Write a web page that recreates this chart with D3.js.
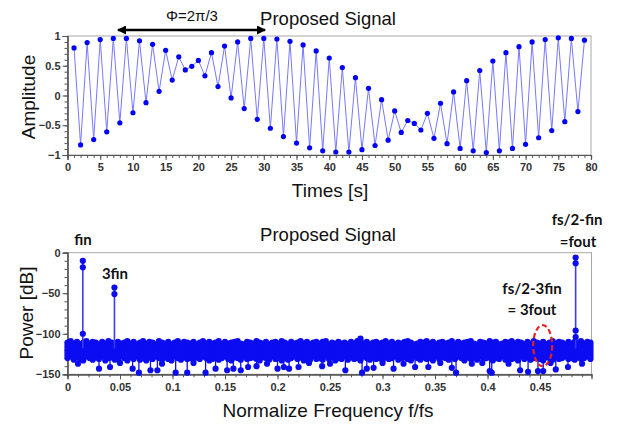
<!DOCTYPE html>
<html>
<head>
<meta charset="utf-8">
<script src="https://cdn.jsdelivr.net/npm/d3@7/dist/d3.min.js"></script>
<style>
  html, body { margin: 0; padding: 0; background: #fff; }
  svg { display: block; }
  .tick text { font-family: "Liberation Sans", Arial, sans-serif; font-size: 11px; font-weight: bold; fill: #333; }
</style>
</head>
<body>
<svg id="chart" width="630" height="426"></svg>
<script>
// ---- Time-domain samples (t = 1..79 s) ----
const timeSeconds = d3.range(1, 80);
const amplitude = [
  0.80, -0.83, 0.89, -0.74, 0.94, -0.61, 0.96, -0.46, 0.96, -0.29,
  0.92, -0.12, 0.86, 0.07, 0.76, 0.26, 0.65, 0.43, 0.49, 0.59,
  0.33, 0.72, 0.15, 0.83, -0.04, 0.90, -0.22, 0.96, -0.40, 0.96,
  -0.55, 0.95, -0.69, 0.91, -0.80, 0.85, -0.88, 0.75, -0.93, 0.63,
  -0.95, 0.47, -0.95, 0.30, -0.91, 0.12, -0.84, -0.07, -0.75, -0.26,
  -0.62, -0.42, -0.47, -0.58, -0.30, -0.72, -0.13, -0.81, 0.06, -0.89,
  0.25, -0.93, 0.42, -0.96, 0.58, -0.93, 0.72, -0.89, 0.82, -0.82,
  0.90, -0.71, 0.94, -0.59, 0.97, -0.44, 0.96, -0.27, 0.93
];
const timeTicks = d3.range(0, 81, 5);
const ampTicks = [-1, -0.5, 0, 0.5, 1];

// ---- Spectrum noise floor: per-bin upper / lower spread (bin step 0.003 f/fs) ----
const binStep = 0.003;
const noiseTopDb = [
  -111,-109,-112,-110,-113,-111,-109,-112,-110,-111,-113,-110,-112,-109,-111,-113,-110,-112,-111,-109,
  -112,-110,-113,-111,-109,-112,-110,-111,-113,-109,-111,-112,-110,-113,-111,-109,-112,-110,-111,-112,
  -110,-113,-111,-109,-112,-110,-112,-111,-109,-113,-110,-112,-111,-110,-109,-112,-113,-110,-111,-112,
  -109,-111,-112,-110,-113,-111,-110,-112,-109,-111,-113,-110,-112,-111,-109,-112,-110,-113,-111,-110,
  -112,-110,-109,-113,-111,-112,-110,-112,-111,-113,-110,-112,-109,-106,-112,-110,-113,-111,-110,-112,
  -111,-109,-112,-110,-113,-111,-112,-110,-109,-111,-113,-112,-110,-111,-109,-112,-110,-113,-111,-110,
  -112,-111,-109,-113,-110,-112,-111,-110,-109,-112,-113,-110,-111,-112,-109,-111,-110,-113,-112,-110,
  -111,-109,-112,-110,-111,-113,-110,-112,-109,-111,-112,-110,-113,-111,-109,-112,-110,-111,-113,-110,
  -112,-110,-111,-109,-112,-110,-111
];
const noiseBottomDb = [
  -130,-128,-132,-129,-131,-133,-128,-130,-132,-129,-131,-128,-133,-130,-129,-132,-131,-128,-130,-133,
  -129,-131,-128,-132,-130,-133,-129,-131,-128,-130,-132,-129,-131,-133,-128,-130,-132,-129,-131,-130,
  -132,-129,-131,-128,-130,-133,-131,-129,-132,-130,-128,-131,-133,-129,-130,-132,-128,-131,-130,-129,
  -131,-133,-129,-130,-132,-128,-131,-130,-133,-129,-132,-130,-128,-131,-129,-133,-130,-132,-128,-131,
  -130,-132,-128,-131,-129,-133,-130,-131,-128,-132,-129,-131,-130,-133,-128,-130,-132,-129,-131,-130,
  -133,-129,-131,-130,-128,-132,-130,-129,-131,-133,-128,-130,-132,-129,-131,-130,-133,-128,-131,-129,
  -130,-132,-129,-131,-128,-130,-133,-129,-131,-130,-132,-128,-131,-130,-129,-133,-130,-131,-128,-132,
  -129,-131,-130,-133,-128,-131,-129,-132,-130,-128,-131,-133,-129,-130,-132,-129,-131,-130,-128,-131,
  -130,-132,-129,-131,-130,-128,-131
];

// isolated low-level bins below the floor
const outlierFreq = [
  0.010, 0.030, 0.0405, 0.050, 0.062, 0.068, 0.079, 0.0856, 0.090, 0.103,
  0.114, 0.120, 0.1315, 0.141, 0.152, 0.158, 0.165, 0.172, 0.180, 0.190,
  0.200, 0.206, 0.211, 0.220, 0.230, 0.2425, 0.250, 0.2646, 0.2805, 0.285,
  0.2915, 0.300, 0.3105, 0.320, 0.331, 0.3436, 0.355, 0.366, 0.370, 0.385,
  0.395, 0.402, 0.404, 0.420, 0.431, 0.4386, 0.448, 0.453, 0.460, 0.465,
  0.4766, 0.490
];
const outlierDb = [
  -137, -143, -141, -136, -143, -148, -145, -145, -137, -148,
  -148, -136, -148, -143, -145, -143, -145, -141, -140, -137,
  -143, -141, -143, -141, -136, -140, -137, -145, -148, -143,
  -142, -136, -143, -137, -141, -141, -136, -142, -148, -137,
  -136, -146, -148, -137, -145, -147, -146, -146, -136, -144,
  -141, -137
];

// ---- Tones (fin, 3fin, fs/2-fin) ----
const toneFreq = [0.0146, 0.0447, 0.4839];
const toneDb = [
  [-10, -18, -100],
  [-43, -51],
  [-6, -13, -96, -104]
];
const toneBase = -118;

const freqTicks = [0, 0.05, 0.1, 0.15, 0.2, 0.25, 0.3, 0.35, 0.4, 0.45];
const powerTicks = [0, -50, -100, -150];

const svg = d3.select("#chart");
const fontSans = '"Liberation Sans", Arial, sans-serif';
const fontBold = 'Lato, "Liberation Sans", sans-serif';
const markBlue = "#0c0cf2";

function frame(g, x0, x1, y0, y1) {
  g.append("rect")
    .attr("x", x0).attr("y", y0)
    .attr("width", x1 - x0).attr("height", y1 - y0)
    .attr("fill", "none").attr("stroke", "#a8a8a8").attr("stroke-width", 1);
}

function styleAxis(g) {
  g.select(".domain").attr("stroke", "#555").attr("stroke-width", 1.2);
  g.selectAll(".tick line").attr("stroke", "#555");
}

// ================= Upper panel: time-domain =================
const xT = d3.scaleLinear().domain([0, 80]).range([67.5, 591]);
const yT = d3.scaleLinear().domain([-1, 1]).range([155, 36]);

const timeG = svg.append("g");
frame(timeG, 67.5, 591, 36, 155);

timeG.append("g").attr("transform", "translate(0,155)")
  .call(d3.axisBottom(xT).tickValues(d3.range(0, 81, 1)).tickSize(3).tickFormat(""))
  .call(styleAxis);
timeG.append("g").attr("transform", "translate(0,155)")
  .call(d3.axisBottom(xT).tickValues(timeTicks).tickSize(5).tickPadding(3).tickFormat(d3.format("d")))
  .call(styleAxis);
timeG.append("g").attr("transform", "translate(67.5,0)")
  .call(d3.axisLeft(yT).tickValues(d3.range(-10, 11).map(d => d / 10)).tickSize(3).tickFormat(""))
  .call(styleAxis);
timeG.append("g").attr("transform", "translate(67.5,0)")
  .call(d3.axisLeft(yT).tickValues(ampTicks).tickSize(5).tickPadding(2).tickFormat(d3.format("")))
  .call(styleAxis);

const ampLine = d3.line().x((d, i) => xT(timeSeconds[i])).y(d => yT(d));
timeG.append("path").datum(amplitude)
  .attr("d", ampLine).attr("fill", "none")
  .attr("stroke", "#7878ff").attr("stroke-width", 1);
timeG.selectAll("circle.amp").data(amplitude).enter().append("circle")
  .attr("class", "amp")
  .attr("cx", (d, i) => xT(timeSeconds[i])).attr("cy", d => yT(d))
  .attr("r", 2.6).attr("fill", "#0000ff");

timeG.append("text").attr("x", 328).attr("y", 24.5)
  .attr("text-anchor", "middle").attr("font-family", fontSans).attr("font-size", 18.5)
  .attr("fill", "#111").text("Proposed Signal");
timeG.append("text").attr("x", 192).attr("y", 20.5)
  .attr("text-anchor", "middle").attr("font-family", fontSans).attr("font-size", 15)
  .attr("fill", "#111").text("Φ=2π/3");
timeG.append("text").attr("x", 330).attr("y", 197)
  .attr("text-anchor", "middle").attr("font-family", fontSans).attr("font-size", 19)
  .attr("fill", "#111").text("Times [s]");
timeG.append("text").attr("transform", "translate(35,97) rotate(-90)")
  .attr("text-anchor", "middle").attr("font-family", fontSans).attr("font-size", 19)
  .attr("fill", "#111").text("Amplitude");

// phase arrow, double-headed, spanning t = 7.7 .. 30.2
const defs = svg.append("defs");
defs.append("marker").attr("id", "ah").attr("viewBox", "0 0 10 10")
  .attr("refX", 9).attr("refY", 5).attr("markerWidth", 4.2).attr("markerHeight", 3.6)
  .attr("orient", "auto-start-reverse")
  .append("path").attr("d", "M0,0 L10,5 L0,10 Z").attr("fill", "#000");
timeG.append("line")
  .attr("x1", xT(7.7)).attr("x2", xT(30.2)).attr("y1", 30).attr("y2", 30)
  .attr("stroke", "#000").attr("stroke-width", 2.5)
  .attr("marker-start", "url(#ah)").attr("marker-end", "url(#ah)");

// ================= Lower panel: spectrum =================
const xF = d3.scaleLinear().domain([0, 0.499]).range([67.5, 591.5]);
const yF = d3.scaleLinear().domain([-150, 0]).range([374.3, 252.7]);

const specG = svg.append("g");
frame(specG, 67.5, 591.5, 252.7, 374.3);

specG.append("g").attr("transform", "translate(0,374.3)")
  .call(d3.axisBottom(xF).tickValues(d3.range(0, 50).map(d => d / 100)).tickSize(3).tickFormat(""))
  .call(styleAxis);
specG.append("g").attr("transform", "translate(0,374.3)")
  .call(d3.axisBottom(xF).tickValues(freqTicks).tickSize(5).tickPadding(4).tickFormat(d3.format("")))
  .call(styleAxis);
specG.append("g").attr("transform", "translate(67.5,0)")
  .call(d3.axisLeft(yF).tickValues(d3.range(-150, 1, 10)).tickSize(3).tickFormat(""))
  .call(styleAxis);
specG.append("g").attr("transform", "translate(67.5,0)")
  .call(d3.axisLeft(yF).tickValues(powerTicks).tickSize(5).tickPadding(2).tickFormat(d3.format("")))
  .call(styleAxis);

// outliers: short thin drop from the floor to the marker
specG.selectAll("line.out").data(outlierDb).enter().append("line")
  .attr("class", "out")
  .attr("x1", (d, i) => xF(outlierFreq[i])).attr("x2", (d, i) => xF(outlierFreq[i]))
  .attr("y1", yF(-128)).attr("y2", d => yF(d))
  .attr("stroke", markBlue).attr("stroke-width", 1.3);
specG.selectAll("circle.out").data(outlierDb).enter().append("circle")
  .attr("class", "out")
  .attr("cx", (d, i) => xF(outlierFreq[i])).attr("cy", d => yF(d))
  .attr("r", 3.1).attr("fill", markBlue);

// floor spread per bin, round-capped so the edges show marker bumps
specG.selectAll("line.floor").data(noiseTopDb).enter().append("line")
  .attr("class", "floor")
  .attr("x1", (d, i) => xF(i * binStep)).attr("x2", (d, i) => xF(i * binStep))
  .attr("y1", d => yF(d)).attr("y2", (d, i) => yF(noiseBottomDb[i]))
  .attr("stroke", markBlue).attr("stroke-width", 6.2).attr("stroke-linecap", "round");

// tone stems with their bin markers
toneFreq.forEach((f, k) => {
  const vals = toneDb[k];
  specG.append("line")
    .attr("x1", xF(f)).attr("x2", xF(f))
    .attr("y1", yF(toneBase)).attr("y2", yF(d3.max(vals)))
    .attr("stroke", "#3a3aff").attr("stroke-width", 1.6);
  specG.selectAll(null).data(vals).enter().append("circle")
    .attr("cx", xF(f)).attr("cy", d => yF(d))
    .attr("r", 3.1).attr("fill", markBlue);
});

// dashed marker around the expected 3fout location
specG.append("ellipse")
  .attr("cx", xF(0.4525)).attr("cy", 345.7).attr("rx", 9.5).attr("ry", 20.5)
  .attr("fill", "none").attr("stroke", "#e8201a").attr("stroke-width", 2.2)
  .attr("stroke-dasharray", "5,3");

specG.append("text").attr("x", 328).attr("y", 241)
  .attr("text-anchor", "middle").attr("font-family", fontSans).attr("font-size", 18.5)
  .attr("fill", "#111").text("Proposed Signal");
specG.append("text").attr("x", 328).attr("y", 417)
  .attr("text-anchor", "middle").attr("font-family", fontSans).attr("font-size", 19)
  .attr("fill", "#111").text("Normalize Frequency f/fs");
specG.append("text").attr("transform", "translate(33,313) rotate(-90)")
  .attr("text-anchor", "middle").attr("font-family", fontSans).attr("font-size", 19)
  .attr("fill", "#111").text("Power [dB]");

const notes = [
  { x: 83, y: 245, t: "fin" },
  { x: 115, y: 279, t: "3fin" },
  { x: 577, y: 225, t: "fs/2-fin" },
  { x: 578, y: 247, t: "=fout" },
  { x: 532, y: 294, t: "fs/2-3fin" },
  { x: 532, y: 315, t: "= 3fout" }
];
specG.selectAll("text.note").data(notes).enter().append("text")
  .attr("class", "note")
  .attr("x", d => d.x).attr("y", d => d.y)
  .attr("text-anchor", "middle").attr("font-family", fontBold)
  .attr("font-weight", "bold").attr("font-size", 15).attr("fill", "#111")
  .text(d => d.t);
</script>
</body>
</html>
